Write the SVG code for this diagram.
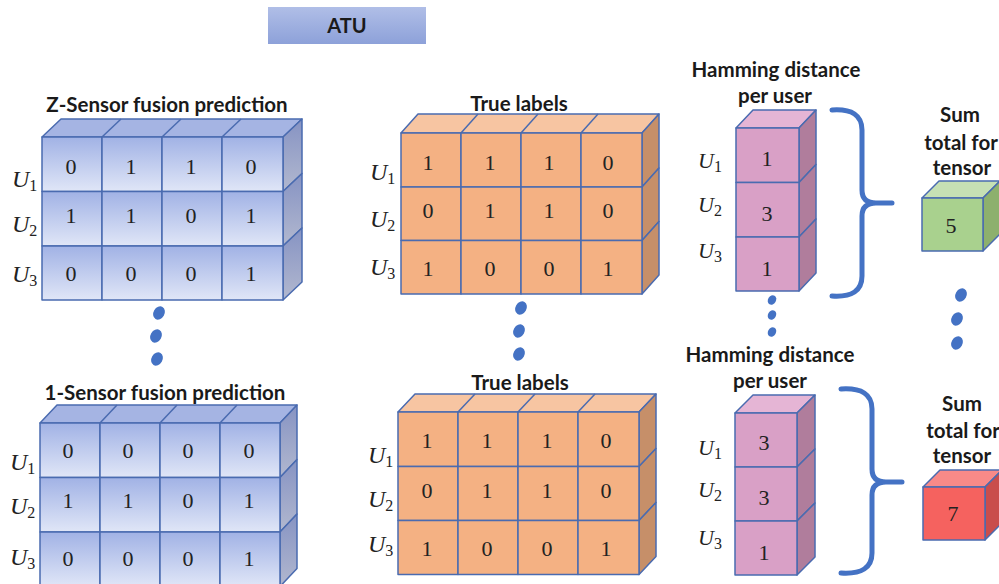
<svg xmlns="http://www.w3.org/2000/svg" width="999" height="584" viewBox="0 0 999 584">
  <defs>
    <linearGradient id="blueCell" x1="0" y1="0" x2="0" y2="1">
      <stop offset="0" stop-color="#a1b2e5"/>
      <stop offset="1" stop-color="#e0e6f7"/>
    </linearGradient>
    <linearGradient id="blueSide" x1="0" y1="0" x2="0" y2="1">
      <stop offset="0" stop-color="#8693c3"/>
      <stop offset="1" stop-color="#b2b8cf"/>
    </linearGradient>
    <linearGradient id="atuFill" x1="0" y1="0" x2="0" y2="1">
      <stop offset="0" stop-color="#b0bee7"/>
      <stop offset="1" stop-color="#8da1d9"/>
    </linearGradient>
  </defs>
  <style>
    .edge { stroke: #4a6bb0; stroke-width: 1.5; stroke-linejoin: round; }
    .bf { fill: url(#blueCell); }
    .bt { fill: #a5b4e3; }
    .bs { fill: url(#blueSide); }
    .of { fill: #f4b183; }
    .ot { fill: #f7c5a2; }
    .os { fill: #c68f69; }
    .pf { fill: #d9a0c6; }
    .pt { fill: #e5b5d5; }
    .ps { fill: #b07d9c; }
    .gf { fill: #a9d18e; }
    .gt { fill: #c6e0b4; }
    .gs { fill: #8db06d; }
    .rf { fill: #f5625f; }
    .rt { fill: #f88a88; }
    .rs { fill: #c94d4c; }
    .ttl { font-family: Lato, "Liberation Sans", sans-serif; font-weight: 700; font-size: 20.5px; fill: #1a1a1a; text-anchor: middle; }
    .num { font-family: "Liberation Serif", serif; font-size: 22px; fill: #222; text-anchor: middle; }
    .u { font-family: "Liberation Serif", serif; font-style: italic; font-size: 24px; fill: #222; }
    .u2 { font-family: "Liberation Serif", serif; font-style: italic; font-size: 22px; fill: #222; }
    .sub { font-size: 16px; font-style: normal; }
    .brace { fill: none; stroke: #4472c4; stroke-width: 5; stroke-linecap: round; stroke-linejoin: round; }
    .dot { fill: #4472c4; }
  </style>

  <!-- title box -->
  <g id="atu">
    <rect x="268" y="7" width="158" height="37" fill="url(#atuFill)"/>
    <text x="347" y="33" class="ttl" style="font-size:20px">ATU</text>
  </g>

  <!-- Z-sensor prediction tensor -->
  <g id="z-pred">
    <text x="167" y="112" class="ttl">Z-Sensor fusion prediction</text>
    <g class="edge">
      <polygon class="bt" points="42,137 61,119 302,119 283,137"/>
      <line x1="102" y1="137" x2="121" y2="119"/>
      <line x1="162" y1="137" x2="181" y2="119"/>
      <line x1="222" y1="137" x2="241" y2="119"/>
      <polygon class="bs" points="283,137 302,119 302,173.5 283,191.5"/>
      <polygon class="bs" points="283,191.5 302,173.5 302,228 283,246"/>
      <polygon class="bs" points="283,246 302,228 302,282 283,300"/>
      <rect class="bf" x="42" y="137" width="60" height="54.5"/>
      <rect class="bf" x="102" y="137" width="60" height="54.5"/>
      <rect class="bf" x="162" y="137" width="60" height="54.5"/>
      <rect class="bf" x="222" y="137" width="61" height="54.5"/>
      <rect class="bf" x="42" y="191.5" width="60" height="54.5"/>
      <rect class="bf" x="102" y="191.5" width="60" height="54.5"/>
      <rect class="bf" x="162" y="191.5" width="60" height="54.5"/>
      <rect class="bf" x="222" y="191.5" width="61" height="54.5"/>
      <rect class="bf" x="42" y="246" width="60" height="54"/>
      <rect class="bf" x="102" y="246" width="60" height="54"/>
      <rect class="bf" x="162" y="246" width="60" height="54"/>
      <rect class="bf" x="222" y="246" width="61" height="54"/>
    </g>
    <text class="num" y="173.5"><tspan x="71">0</tspan><tspan x="131">1</tspan><tspan x="191">1</tspan><tspan x="251">0</tspan></text>
    <text class="num" y="222.5"><tspan x="71">1</tspan><tspan x="131">1</tspan><tspan x="191">0</tspan><tspan x="251">1</tspan></text>
    <text class="num" y="280.5"><tspan x="71">0</tspan><tspan x="131">0</tspan><tspan x="191">0</tspan><tspan x="251">1</tspan></text>
    <text class="u" x="12" y="187">U<tspan class="sub" dy="4">1</tspan></text>
    <text class="u" x="12" y="232">U<tspan class="sub" dy="4">2</tspan></text>
    <text class="u" x="12" y="282">U<tspan class="sub" dy="4">3</tspan></text>
  </g>

  <!-- 1-sensor prediction tensor -->
  <g id="one-pred">
    <text x="165" y="400" class="ttl">1-Sensor fusion prediction</text>
    <g class="edge">
      <polygon class="bt" points="40,423 57,405 297,405 280,423"/>
      <line x1="100" y1="423" x2="117" y2="405"/>
      <line x1="160" y1="423" x2="177" y2="405"/>
      <line x1="220" y1="423" x2="237" y2="405"/>
      <polygon class="bs" points="280,423 297,405 297,459.5 280,477.5"/>
      <polygon class="bs" points="280,477.5 297,459.5 297,514 280,532"/>
      <polygon class="bs" points="280,532 297,514 297,568.5 280,586.5"/>
      <rect class="bf" x="40" y="423" width="60" height="54.5"/>
      <rect class="bf" x="100" y="423" width="60" height="54.5"/>
      <rect class="bf" x="160" y="423" width="60" height="54.5"/>
      <rect class="bf" x="220" y="423" width="60" height="54.5"/>
      <rect class="bf" x="40" y="477.5" width="60" height="54.5"/>
      <rect class="bf" x="100" y="477.5" width="60" height="54.5"/>
      <rect class="bf" x="160" y="477.5" width="60" height="54.5"/>
      <rect class="bf" x="220" y="477.5" width="60" height="54.5"/>
      <rect class="bf" x="40" y="532" width="60" height="54.5"/>
      <rect class="bf" x="100" y="532" width="60" height="54.5"/>
      <rect class="bf" x="160" y="532" width="60" height="54.5"/>
      <rect class="bf" x="220" y="532" width="60" height="54.5"/>
    </g>
    <text class="num" y="457.5"><tspan x="68">0</tspan><tspan x="128">0</tspan><tspan x="188">0</tspan><tspan x="249">0</tspan></text>
    <text class="num" y="507.5"><tspan x="68">1</tspan><tspan x="128">1</tspan><tspan x="188">0</tspan><tspan x="249">1</tspan></text>
    <text class="num" y="565.5"><tspan x="68">0</tspan><tspan x="128">0</tspan><tspan x="188">0</tspan><tspan x="249">1</tspan></text>
    <text class="u" x="10" y="470">U<tspan class="sub" dy="4">1</tspan></text>
    <text class="u" x="10" y="514">U<tspan class="sub" dy="4">2</tspan></text>
    <text class="u" x="10" y="565">U<tspan class="sub" dy="4">3</tspan></text>
  </g>

  <!-- true labels, upper -->
  <g id="true-top">
    <text x="519" y="111" class="ttl">True labels</text>
    <g class="edge">
      <polygon class="ot" points="401,133 418,114 659,114 642,133"/>
      <line x1="461" y1="133" x2="478" y2="114"/>
      <line x1="521" y1="133" x2="538" y2="114"/>
      <line x1="581" y1="133" x2="598" y2="114"/>
      <polygon class="os" points="642,133 659,114 659,168 642,187"/>
      <polygon class="os" points="642,187 659,168 659,221.5 642,240.5"/>
      <polygon class="os" points="642,240.5 659,221.5 659,275 642,294"/>
      <rect class="of" x="401" y="133" width="60" height="54"/>
      <rect class="of" x="461" y="133" width="60" height="54"/>
      <rect class="of" x="521" y="133" width="60" height="54"/>
      <rect class="of" x="581" y="133" width="61" height="54"/>
      <rect class="of" x="401" y="187" width="60" height="53.5"/>
      <rect class="of" x="461" y="187" width="60" height="53.5"/>
      <rect class="of" x="521" y="187" width="60" height="53.5"/>
      <rect class="of" x="581" y="187" width="61" height="53.5"/>
      <rect class="of" x="401" y="240.5" width="60" height="53.5"/>
      <rect class="of" x="461" y="240.5" width="60" height="53.5"/>
      <rect class="of" x="521" y="240.5" width="60" height="53.5"/>
      <rect class="of" x="581" y="240.5" width="61" height="53.5"/>
    </g>
    <text class="num" y="169.5"><tspan x="428">1</tspan><tspan x="490">1</tspan><tspan x="549">1</tspan><tspan x="608">0</tspan></text>
    <text class="num" y="217.5"><tspan x="428">0</tspan><tspan x="490">1</tspan><tspan x="549">1</tspan><tspan x="608">0</tspan></text>
    <text class="num" y="275.5"><tspan x="428">1</tspan><tspan x="490">0</tspan><tspan x="549">0</tspan><tspan x="608">1</tspan></text>
    <text class="u" x="370" y="180">U<tspan class="sub" dy="4">1</tspan></text>
    <text class="u" x="370" y="227">U<tspan class="sub" dy="4">2</tspan></text>
    <text class="u" x="370" y="275">U<tspan class="sub" dy="4">3</tspan></text>
  </g>

  <!-- true labels, lower -->
  <g id="true-bottom">
    <text x="520" y="390" class="ttl">True labels</text>
    <g class="edge">
      <polygon class="ot" points="398,412 415,394 656,394 639,412"/>
      <line x1="458" y1="412" x2="475" y2="394"/>
      <line x1="518" y1="412" x2="535" y2="394"/>
      <line x1="578" y1="412" x2="595" y2="394"/>
      <polygon class="os" points="639,412 656,394 656,448.5 639,466.5"/>
      <polygon class="os" points="639,466.5 656,448.5 656,502.5 639,520.5"/>
      <polygon class="os" points="639,520.5 656,502.5 656,556.5 639,574.5"/>
      <rect class="of" x="398" y="412" width="60" height="54.5"/>
      <rect class="of" x="458" y="412" width="60" height="54.5"/>
      <rect class="of" x="518" y="412" width="60" height="54.5"/>
      <rect class="of" x="578" y="412" width="61" height="54.5"/>
      <rect class="of" x="398" y="466.5" width="60" height="54"/>
      <rect class="of" x="458" y="466.5" width="60" height="54"/>
      <rect class="of" x="518" y="466.5" width="60" height="54"/>
      <rect class="of" x="578" y="466.5" width="61" height="54"/>
      <rect class="of" x="398" y="520.5" width="60" height="54"/>
      <rect class="of" x="458" y="520.5" width="60" height="54"/>
      <rect class="of" x="518" y="520.5" width="60" height="54"/>
      <rect class="of" x="578" y="520.5" width="61" height="54"/>
    </g>
    <text class="num" y="447.5"><tspan x="427">1</tspan><tspan x="487">1</tspan><tspan x="547">1</tspan><tspan x="606">0</tspan></text>
    <text class="num" y="497.5"><tspan x="427">0</tspan><tspan x="487">1</tspan><tspan x="547">1</tspan><tspan x="606">0</tspan></text>
    <text class="num" y="555.5"><tspan x="427">1</tspan><tspan x="487">0</tspan><tspan x="547">0</tspan><tspan x="606">1</tspan></text>
    <text class="u" x="368" y="463">U<tspan class="sub" dy="4">1</tspan></text>
    <text class="u" x="368" y="507">U<tspan class="sub" dy="4">2</tspan></text>
    <text class="u" x="368" y="552">U<tspan class="sub" dy="4">3</tspan></text>
  </g>

  <!-- per-user Hamming distance, upper -->
  <g id="ham-top">
    <text x="776" y="77" class="ttl">Hamming distance</text>
    <text x="775" y="103" class="ttl">per user</text>
    <g class="edge">
      <polygon class="pt" points="736,128 753,110 816,110 799,128"/>
      <polygon class="ps" points="799,128 816,110 816,164.5 799,182.5"/>
      <polygon class="ps" points="799,182.5 816,164.5 816,219 799,237"/>
      <polygon class="ps" points="799,237 816,219 816,273 799,291"/>
      <rect class="pf" x="736" y="128" width="63" height="54.5"/>
      <rect class="pf" x="736" y="182.5" width="63" height="54.5"/>
      <rect class="pf" x="736" y="237" width="63" height="54"/>
    </g>
    <text class="num" x="767" y="165.5">1</text>
    <text class="num" x="767" y="220.5">3</text>
    <text class="num" x="767" y="275.5">1</text>
    <text class="u2" x="698" y="168">U<tspan class="sub" dy="4">1</tspan></text>
    <text class="u2" x="698" y="212">U<tspan class="sub" dy="4">2</tspan></text>
    <text class="u2" x="698" y="258">U<tspan class="sub" dy="4">3</tspan></text>
  </g>

  <!-- per-user Hamming distance, lower -->
  <g id="ham-bottom">
    <text x="770" y="362" class="ttl">Hamming distance</text>
    <text x="770" y="388" class="ttl">per user</text>
    <g class="edge">
      <polygon class="pt" points="735,413 753,395 815,395 797,413"/>
      <polygon class="ps" points="797,413 815,395 815,449 797,467"/>
      <polygon class="ps" points="797,467 815,449 815,503 797,521"/>
      <polygon class="ps" points="797,521 815,503 815,557 797,575"/>
      <rect class="pf" x="735" y="413" width="62" height="54"/>
      <rect class="pf" x="735" y="467" width="62" height="54"/>
      <rect class="pf" x="735" y="521" width="62" height="54"/>
    </g>
    <text class="num" x="764" y="449.5">3</text>
    <text class="num" x="764" y="504.5">3</text>
    <text class="num" x="764" y="559.5">1</text>
    <text class="u2" x="698" y="455">U<tspan class="sub" dy="4">1</tspan></text>
    <text class="u2" x="698" y="497">U<tspan class="sub" dy="4">2</tspan></text>
    <text class="u2" x="698" y="545">U<tspan class="sub" dy="4">3</tspan></text>
  </g>

  <!-- tensor totals -->
  <g id="sum-top">
    <text x="960" y="122" class="ttl">Sum</text>
    <text x="961" y="150" class="ttl">total for</text>
    <text x="962" y="175" class="ttl">tensor</text>
    <g class="edge">
      <polygon class="gt" points="922,198 939,181 1000,181 983,198"/>
      <polygon class="gs" points="983,198 1000,181 1000,234 983,251"/>
      <rect class="gf" x="922" y="198" width="61" height="53"/>
    </g>
    <text class="num" x="951" y="232.5">5</text>
  </g>

  <g id="sum-bottom">
    <text x="962" y="411" class="ttl">Sum</text>
    <text x="963" y="438" class="ttl">total for</text>
    <text x="962" y="463" class="ttl">tensor</text>
    <g class="edge">
      <polygon class="rt" points="923,487 940,470 1002,470 985,487"/>
      <polygon class="rs" points="985,487 1002,470 1002,523 985,540"/>
      <rect class="rf" x="923" y="487" width="62" height="53"/>
    </g>
    <text class="num" x="953" y="520.5">7</text>
  </g>

  <!-- braces joining per-user distances to totals -->
  <g id="connectors">
    <path class="brace" d="M832,110 Q862,108 862,130 L862,190 Q862,203 876,203 L892,203 M876,203 Q862,203 862,216 L862,276 Q862,298 832,296"/>
    <path class="brace" d="M841,389 Q872,387 872,409 L872,469 Q872,482 886,482 L902,482 M886,482 Q872,482 872,495 L872,553 Q872,575 841,573"/>
  </g>

  <!-- vertical ellipses between the two cases -->
  <g id="ellipses">
    <ellipse class="dot" cx="159" cy="313" rx="5.5" ry="7" transform="rotate(30 159 313)"/>
    <ellipse class="dot" cx="156" cy="336" rx="5.5" ry="7" transform="rotate(30 156 336)"/>
    <ellipse class="dot" cx="157" cy="359" rx="5.5" ry="7" transform="rotate(30 157 359)"/>
    <ellipse class="dot" cx="521" cy="308" rx="5.5" ry="7" transform="rotate(30 521 308)"/>
    <ellipse class="dot" cx="519" cy="331" rx="5.5" ry="7" transform="rotate(30 519 331)"/>
    <ellipse class="dot" cx="519" cy="354" rx="5.5" ry="7" transform="rotate(30 519 354)"/>
    <ellipse class="dot" cx="772" cy="300" rx="4" ry="5" transform="rotate(30 772 300)"/>
    <ellipse class="dot" cx="772" cy="315" rx="4" ry="5" transform="rotate(30 772 315)"/>
    <ellipse class="dot" cx="772" cy="332" rx="4" ry="5" transform="rotate(30 772 332)"/>
    <ellipse class="dot" cx="961" cy="295" rx="5.5" ry="7" transform="rotate(30 961 295)"/>
    <ellipse class="dot" cx="957" cy="319" rx="5.5" ry="7" transform="rotate(30 957 319)"/>
    <ellipse class="dot" cx="957" cy="343" rx="5.5" ry="7" transform="rotate(30 957 343)"/>
  </g>
</svg>
